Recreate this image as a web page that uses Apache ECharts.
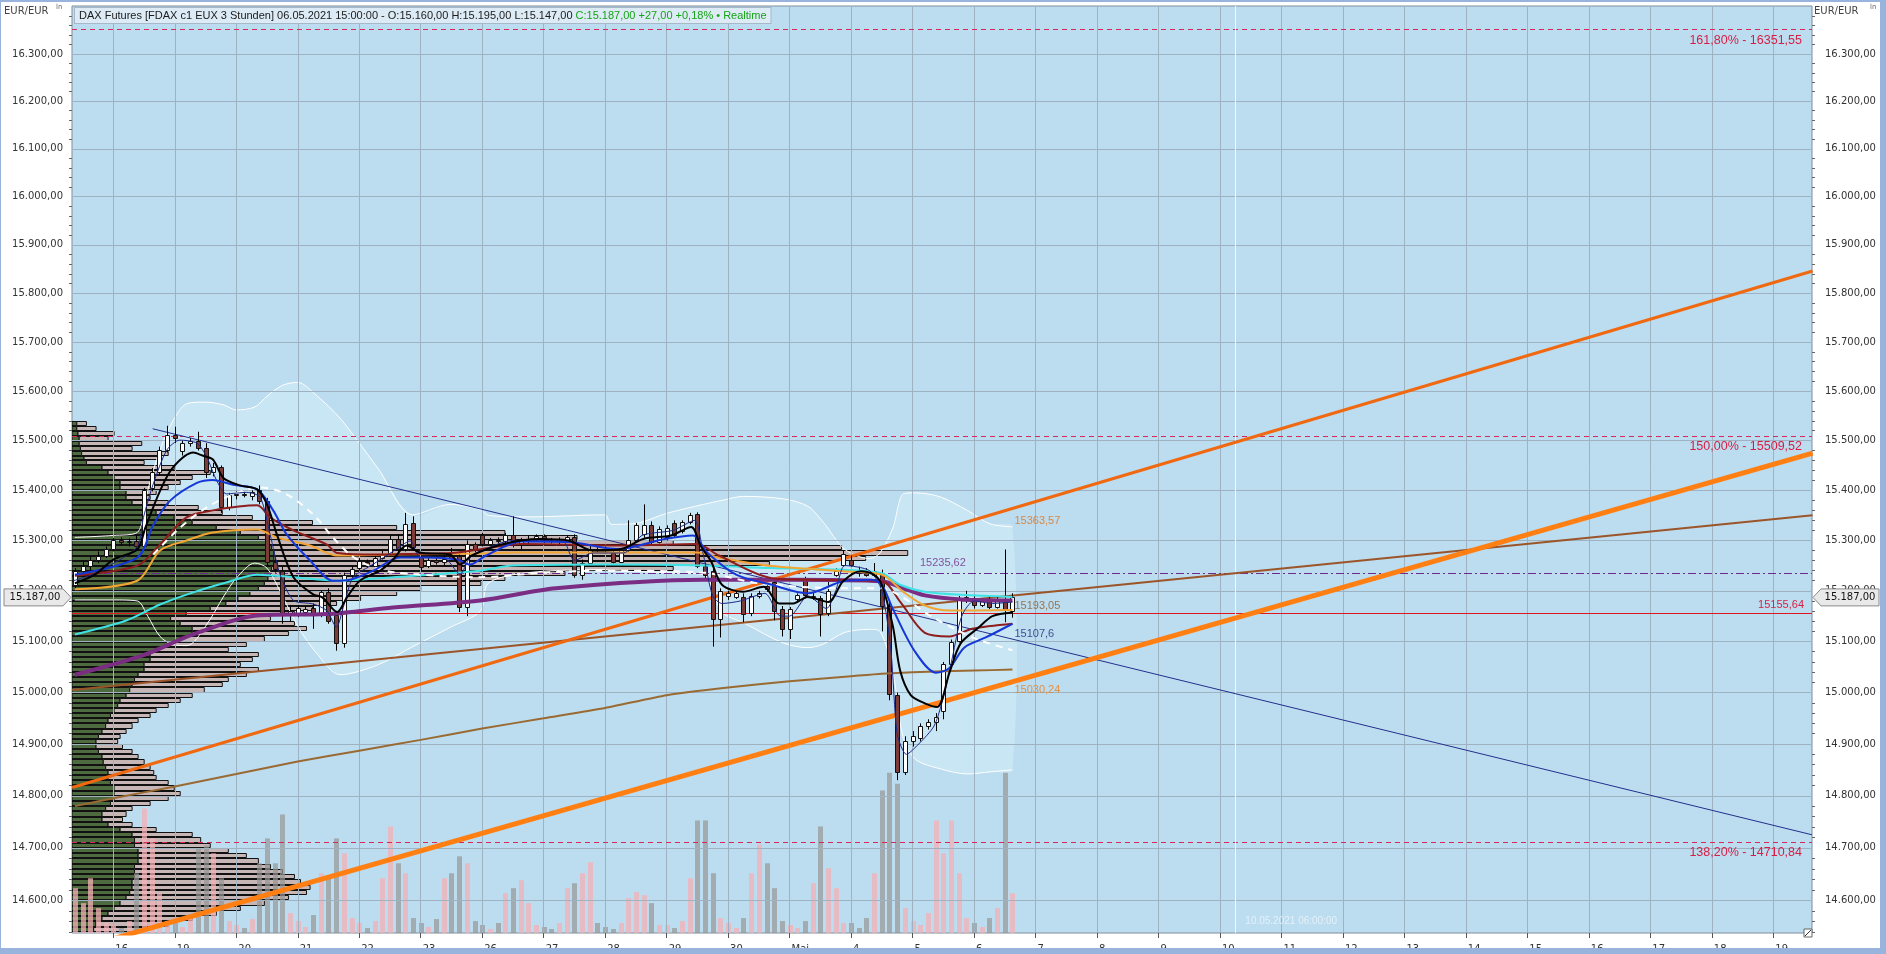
<!DOCTYPE html>
<html><head><meta charset="utf-8">
<script src="https://cdn.jsdelivr.net/npm/echarts@6/dist/echarts.min.js"></script>
<style>html,body{margin:0;padding:0;background:#fff}#c{width:1886px;height:954px}</style>
</head><body><div id="c"></div><script>
// ---------------- DATA ----------------
const axisDays = ['04-16','04-19','04-20','04-21','04-22','04-23','04-26','04-27','04-28','04-29','04-30','05-03','05-04','05-05','05-06','05-07','05-08','05-09','05-10','05-11','05-12','05-13','05-14','05-15','05-16','05-17','05-18','05-19'];
const dayLabels = ['16','19','20','21','22','23','26','27','28','29','30','Mai','4','5','6','7','8','9','10','11','12','13','14','15','16','17','18','19'];
const priceTicks = [14600,14700,14800,14900,15000,15100,15200,15300,15400,15500,15600,15700,15800,15900,16000,16100,16200,16300];
const header = {text:'DAX Futures [FDAX c1 EUX 3 Stunden] 06.05.2021 15:00:00 - O:15.160,00 H:15.195,00 L:15.147,00 ', green:'C:15.187,00 +27,00 +0,18% \u2022 Realtime'};
const lastPrice = 15187;
const cursorTime = '05-10 06';
const cursorLabel = '10.05.2021 06:00:00';

// candles: time, open, high, low, close
const candles = [
['04-15 09',15212,15245,15205,15240],['04-15 12',15240,15258,15232,15250],['04-15 15',15250,15268,15240,15262],['04-15 18',15262,15278,15255,15270],['04-15 21',15270,15288,15265,15282],
['04-16 00',15282,15305,15278,15300],['04-16 03',15300,15306,15290,15296],['04-16 06',15296,15304,15288,15299],['04-16 09',15299,15310,15282,15288],['04-16 12',15288,15405,15280,15400],['04-16 15',15405,15445,15398,15436],['04-16 18',15436,15488,15430,15482],['04-16 21',15482,15530,15476,15512],
['04-19 00',15512,15528,15495,15505],['04-19 03',15480,15500,15470,15495],['04-19 06',15495,15505,15488,15500],['04-19 09',15500,15518,15480,15486],['04-19 12',15486,15495,15425,15436],['04-19 15',15436,15455,15428,15447],['04-19 18',15447,15450,15355,15366],['04-19 21',15366,15395,15360,15390],
['04-20 00',15390,15398,15382,15393],['04-20 03',15393,15397,15386,15390],['04-20 06',15388,15400,15380,15396],['04-20 09',15400,15410,15372,15378],['04-20 12',15378,15385,15250,15257],['04-20 15',15257,15268,15236,15244],['04-20 18',15240,15248,15135,15154],['04-20 21',15154,15172,15140,15160],
['04-21 00',15156,15172,15148,15167],['04-21 03',15158,15170,15150,15165],['04-21 06',15167,15175,15125,15154],['04-21 09',15154,15200,15148,15197],['04-21 12',15197,15205,15135,15141],['04-21 15',15152,15160,15082,15098],['04-21 18',15098,15236,15088,15232],['04-21 21',15232,15248,15226,15244],
['04-22 00',15245,15265,15240,15260],['04-22 03',15258,15262,15245,15252],['04-22 06',15250,15270,15246,15265],['04-22 09',15265,15280,15262,15272],['04-22 12',15272,15310,15268,15302],['04-22 15',15302,15312,15276,15282],['04-22 18',15282,15355,15278,15333],['04-22 21',15335,15348,15280,15286],
['04-23 00',15268,15275,15240,15248],['04-23 03',15250,15266,15245,15262],['04-23 06',15262,15268,15252,15258],['04-23 09',15258,15270,15250,15264],['04-23 12',15270,15285,15262,15266],['04-23 15',15270,15278,15158,15168],['04-23 18',15168,15300,15150,15292],['04-23 21',15292,15296,15276,15282],
['04-26 00',15310,15315,15288,15293],['04-26 03',15293,15305,15290,15300],['04-26 06',15300,15306,15294,15298],['04-26 09',15298,15315,15295,15310],['04-26 12',15310,15348,15286,15290],['04-26 15',15290,15305,15282,15300],['04-26 18',15300,15310,15292,15302],['04-26 21',15302,15312,15298,15308],
['04-27 00',15308,15312,15295,15300],['04-27 03',15300,15305,15294,15298],['04-27 06',15298,15306,15292,15302],['04-27 09',15300,15310,15296,15306],['04-27 12',15306,15312,15226,15232],['04-27 15',15232,15262,15222,15256],['04-27 18',15256,15290,15250,15283],['04-27 21',15283,15290,15276,15282],
['04-28 00',15282,15288,15274,15280],['04-28 03',15276,15282,15254,15258],['04-28 06',15258,15285,15255,15280],['04-28 09',15280,15340,15275,15300],['04-28 12',15300,15335,15296,15330],['04-28 15',15312,15372,15305,15330],['04-28 18',15330,15338,15290,15297],['04-28 21',15297,15328,15294,15322],
['04-29 00',15306,15330,15300,15325],['04-29 03',15334,15340,15305,15310],['04-29 06',15318,15340,15314,15337],['04-29 09',15337,15355,15332,15350],['04-29 12',15352,15356,15245,15249],['04-29 15',15249,15256,15225,15232],['04-29 18',15240,15245,15090,15145],['04-29 21',15145,15205,15108,15200],
['04-30 00',15190,15200,15182,15196],['04-30 03',15188,15200,15184,15195],['04-30 06',15188,15195,15138,15154],['04-30 09',15157,15195,15150,15190],['04-30 12',15190,15200,15185,15195],['04-30 15',15210,15215,15198,15204],['04-30 18',15218,15225,15142,15160],['04-30 21',15164,15170,15110,15124],
['05-03 00',15124,15168,15105,15164],['05-03 03',15184,15195,15178,15191],['05-03 06',15222,15228,15185,15191],['05-03 09',15188,15196,15182,15190],['05-03 12',15185,15190,15110,15154],['05-03 15',15157,15222,15150,15200],['05-03 18',15232,15245,15228,15240],['05-03 21',15252,15280,15248,15273],
['05-04 00',15262,15270,15248,15252],['05-04 03',15240,15248,15228,15235],['05-04 06',15235,15245,15228,15232],['05-04 09',15232,15255,15228,15240],['05-04 12',15236,15242,15120,15171],['05-04 15',15171,15178,14985,14998],['05-04 18',14995,15000,14830,14845],['05-04 21',14845,14915,14840,14905],
['05-05 00',14905,14925,14895,14915],['05-05 03',14912,14940,14905,14935],['05-05 06',14935,14948,14928,14942],['05-05 09',14942,14960,14925,14952],['05-05 12',14965,15060,14948,15056],['05-05 15',15056,15104,15050,15099],['05-05 18',15102,15190,15098,15181],['05-05 21',15181,15200,15176,15188],
['05-06 00',15185,15192,15165,15172],['05-06 03',15172,15185,15168,15180],['05-06 06',15180,15188,15164,15168],['05-06 09',15168,15190,15165,15182],['05-06 12',15178,15282,15138,15163],['05-06 15',15160,15195,15147,15187]
];
const volume = [
45,30,55,25,10,
8,5,12,60,125,95,40,12,
10,6,15,85,88,80,55,12,
8,5,14,70,95,70,119,20,
12,6,18,60,55,95,80,15,
10,5,12,55,107,70,60,15,
10,6,14,55,60,77,70,12,
8,4,10,40,45,53,30,8,
6,4,10,45,50,60,71,10,
6,4,10,35,41,38,30,8,
8,5,12,55,113,113,60,15,
10,5,15,60,89,70,45,12,
8,5,12,50,107,65,45,10,
10,5,15,60,143,161,150,25,
12,8,20,113,80,113,60,15,
10,6,15,25,161,40
];

// volume profile: price level (10-pt bins), green part, total (relative units)
const profilePrice = [15530,15520,15510,15500,15490,15480,15470,15460,15450,15440,15430,15420,15410,15400,15390,15380,15370,15360,15350,15340,15330,15320,15310,15300,15290,15280,15270,15260,15250,15240,15230,15220,15210,15200,15190,15180,15170,15160,15150,15140,15130,15120,15110,15100,15090,15080,15070,15060,15050,15040,15030,15020,15010,15000,14990,14980,14970,14960,14950,14940,14930,14920,14910,14900,14890,14880,14870,14860,14850,14840,14830,14820,14810,14800,14790,14780,14770,14760,14750,14740,14730,14720,14710,14700,14690,14680,14670,14660,14650,14640,14630,14620,14610,14600,14590,14580,14570,14560,14550,14540];
const profileGreen = [4,4,5,6,6,7,8,10,12,25,30,35,40,40,45,45,50,60,70,85,100,120,140,155,162,166,168,168,168,166,165,163,160,155,148,138,128,115,95,82,90,100,100,90,80,70,65,65,60,60,55,52,50,48,45,40,38,35,32,30,28,25,22,20,20,22,25,26,28,30,30,32,35,35,35,32,28,25,25,30,40,50,52,52,55,55,55,52,52,52,50,50,48,45,40,35,30,25,20,18];
const profileTotal = [12,20,35,30,58,50,80,72,60,85,115,100,90,80,70,65,80,105,125,150,200,270,360,420,500,640,695,660,580,500,410,360,340,290,270,240,220,200,185,165,185,195,180,160,145,130,155,150,140,155,145,130,125,110,100,90,80,70,65,55,50,45,40,38,42,50,55,60,65,68,70,80,85,90,80,65,50,45,42,50,70,100,107,115,130,145,155,165,175,185,190,198,195,180,160,140,120,100,80,60];

// indicator lines: [position in trading days from 16 Apr, price]
const maFast = [[-0.65,15220],[-0.33,15233],[0.38,15286],[0.49,15346],[0.65,15413],[0.87,15481],[1.08,15501],[1.36,15495],[1.52,15467],[1.68,15420],[1.84,15393],[2.17,15396],[2.39,15386],[2.55,15312],[2.71,15233],[2.93,15181],[3.25,15174],[3.47,15161],[3.63,15128],[3.74,15167],[3.9,15226],[4.23,15253],[4.56,15279],[4.83,15299],[4.99,15266],[5.37,15266],[5.64,15233],[5.8,15266],[5.97,15279],[6.5,15300],[7.3,15300],[7.5,15260],[7.8,15275],[8.3,15275],[8.6,15310],[9.1,15320],[9.45,15340],[9.6,15270],[9.75,15190],[9.9,15175],[10.2,15180],[10.6,15195],[10.85,15150],[11.0,15150],[11.3,15190],[11.6,15165],[11.75,15200],[11.9,15250],[12.3,15240],[12.5,15200],[12.65,15080],[12.75,14920],[12.9,14880],[13.1,14900],[13.35,14935],[13.5,14990],[13.65,15070],[13.8,15150],[14.0,15180],[14.3,15175],[14.625,15178]];
const maBlack = [[-0.625,15215],[-0.3,15232],[0,15262],[0.39,15282],[0.52,15325],[0.76,15399],[0.97,15446],[1.3,15476],[1.45,15470],[1.62,15462],[1.79,15425],[2.06,15410],[2.34,15402],[2.5,15372],[2.66,15312],[2.93,15227],[3.25,15193],[3.4,15187],[3.64,15158],[3.8,15187],[4.01,15220],[4.34,15240],[4.55,15262],[4.77,15290],[4.99,15276],[5.48,15272],[5.64,15252],[5.83,15270],[6.35,15293],[6.93,15303],[7.4,15300],[7.8,15280],[8.26,15283],[8.62,15303],[9.07,15310],[9.4,15327],[9.55,15290],[9.72,15259],[9.9,15212],[10.24,15198],[10.58,15208],[10.83,15175],[11.06,15175],[11.29,15188],[11.63,15178],[11.87,15219],[12.16,15239],[12.37,15232],[12.5,15212],[12.68,15130],[12.8,15042],[12.97,14995],[13.2,14979],[13.4,14972],[13.6,15039],[13.78,15096],[14.07,15127],[14.3,15150],[14.625,15157]];
const maBlue = [[-0.625,15232],[0.39,15266],[0.65,15331],[0.92,15379],[1.36,15415],[1.62,15421],[1.95,15411],[2.34,15402],[2.6,15360],[2.82,15312],[3.2,15260],[3.57,15220],[3.85,15222],[4.23,15240],[4.66,15266],[5.1,15266],[5.59,15262],[5.8,15252],[6.06,15270],[6.64,15298],[7.4,15297],[8.2,15283],[8.97,15303],[9.43,15310],[9.66,15276],[10.13,15232],[10.71,15212],[11.29,15195],[11.87,15219],[12.33,15222],[12.5,15212],[12.68,15164],[13.03,15082],[13.38,15039],[13.6,15048],[13.84,15088],[14.19,15108],[14.625,15135]];
const maRed = [[-0.625,15230],[0.39,15250],[0.76,15292],[1.19,15346],[1.62,15360],[2.34,15370],[2.55,15346],[2.93,15320],[3.47,15292],[3.64,15275],[4.3,15272],[4.82,15273],[5.5,15275],[6.0,15283],[6.64,15293],[8.37,15290],[9.49,15293],[9.85,15270],[10.71,15225],[11.29,15222],[12.5,15219],[12.8,15178],[13.2,15117],[13.6,15110],[13.97,15125],[14.625,15135]];
const maGold = [[-0.625,15203],[0.39,15220],[0.76,15280],[1.19,15300],[1.62,15316],[2.34,15322],[2.66,15306],[3.2,15290],[3.64,15270],[4.5,15272],[5.97,15274],[6.5,15276],[9.5,15276],[9.85,15266],[10.71,15249],[11.87,15239],[12.5,15232],[12.85,15198],[13.2,15171],[13.6,15161],[14.625,15162]];
const maCyan = [[-0.625,15114],[0.22,15142],[0.76,15173],[1.3,15197],[1.85,15217],[2.34,15232],[2.93,15227],[3.64,15220],[4.55,15227],[5.97,15240],[6.5,15250],[8.0,15252],[9.6,15250],[10.7,15245],[11.8,15242],[12.5,15235],[12.8,15212],[13.2,15198],[13.8,15192],[14.625,15188]];
const maPurple = [[-0.625,15035],[0.48,15073],[1.3,15114],[2.39,15152],[3.47,15154],[4.55,15167],[5.97,15181],[7.2,15205],[9.6,15222],[11.0,15222],[12.5,15219],[12.85,15205],[13.2,15191],[13.8,15183],[14.625,15181]];
const maBrown = [[-0.625,14780],[0,14795],[1,14818],[2,14842],[3,14866],[4,14887],[5,14908],[6,14930],[7,14950],[8,14970],[9,14995],[10,15010],[11,15022],[12,15032],[12.5,15037],[13,15040],[14,15043],[14.625,15045]];
const maWhite = [[0.65,15272],[1.09,15326],[1.52,15366],[1.95,15392],[2.39,15406],[2.82,15392],[3.25,15352],[3.57,15306],[3.85,15272],[4.12,15252],[4.55,15237],[5.97,15227],[7.0,15236],[8.0,15240],[9.6,15236],[10.5,15215],[11.87,15205],[12.5,15205],[12.8,15190],[13.3,15150],[13.8,15118],[14.1,15102],[14.625,15083]];
const bandT     = [-0.625,0,0.39,0.56,0.76,0.97,1.2,1.5,1.8,2.0,2.3,2.5,2.75,3.0,3.3,3.69,4.3,4.87,5.48,5.97,6.1,6.75,8.0,8.1,8.5,9.0,9.6,9.9,10.25,10.9,11.3,11.55,11.9,12.3,12.47,12.68,12.85,13.05,13.45,13.89,14.26,14.625];
const bandUpper = [15306,15310,15316,15400,15482,15540,15575,15578,15572,15562,15568,15590,15612,15618,15592,15545,15445,15351,15372,15362,15350,15347,15351,15332,15334,15354,15372,15380,15388,15383,15368,15336,15282,15264,15275,15325,15393,15395,15387,15360,15333,15327];
const bandLower = [15182,15182,15180,15150,15110,15094,15092,15130,15190,15225,15255,15245,15190,15130,15078,15035,15054,15090,15128,15160,15215,15236,15242,15240,15238,15236,15232,15158,15137,15097,15088,15095,15118,15124,15120,15040,14910,14870,14852,14842,14846,14850];

// trend lines (two anchor points each)
const trendOrangeThin  = [[-0.67,14816],[27.64,15846]];
const trendOrangeThick = [[-0.67,14505],[27.64,15475]];
const trendBrown       = [[-0.67,15005],[27.64,15350]];
const trendNavy        = [[0.64,15524],[27.63,14725]];
const fibLevels = [{v:16351.55, t:'161,80% - 16351,55'},{v:15509.52, t:'150,00% - 15509,52'},{v:14710.84, t:'138,20% - 14710,84'}];
const redLevel = 15155.64, purpleLevel = 15235.62;
const endLabels = [
 {v:15363.57, t:'15363,57', c:'#e0731c', dy:12},
 {v:15193.05, t:'15193,05', c:'#8a5a2e', dy:12},
 {v:15107.6,  t:'15107,6',  c:'#1b2a7c', dy:-4},
 {v:15030.24, t:'15030,24', c:'#e8801e', dy:13}
];

// ---------------- HELPERS ----------------
const LN = Math.log;
const PMIN = 14538, PMAX = 16402;
function dayIndex(d){ return d === '04-15' ? -1 : axisDays.indexOf(d); }
function tOf(s){ const [d,h] = s.split(' '); return dayIndex(d) + parseInt(h,10)/24; }
function de(v){ return String(Math.round(v)).replace(/\B(?=(\d{3})+(?!\d))/g,'.') + ',00'; }
const majorVals = priceTicks.map(LN);
const minorVals = [];
for (let p = 14540; p <= 16400; p += 20) if (p % 100) minorVals.push(LN(p));
const dayVals = dayLabels.map((_,i)=>i);

function maLine(pts, color, width, extra){
  return Object.assign({type:'line', data: pts.map(([t,p])=>[t, LN(p)]), showSymbol:false, symbol:'none',
    smooth:0.3, lineStyle:{color:color, width:width}, z:7, silent:true, animation:false, clip:true}, extra||{});
}
function straight(pts, color, width, z){
  return {type:'line', data: pts.map(([t,p])=>[t, LN(p)]), showSymbol:false, symbol:'none', lineStyle:{color:color,width:width}, z:z||5, silent:true, animation:false, clip:true};
}

const candleData = candles.map(c=>[tOf(c[0]), LN(c[1]), LN(c[2]), LN(c[3]), LN(c[4])]);
const volData = candles.map((c,i)=>[tOf(c[0]), volume[i], c[4] >= c[1] ? 1 : 0]);
const profData = profilePrice.map((p,i)=>[LN(p), LN(p+10), profileGreen[i], profileTotal[i]]);

const series = [];
// grid lines
series.push({type:'line', data:[], z:1, silent:true, markLine:{silent:true, precision:10, symbol:'none', animation:false, label:{show:false},
  lineStyle:{color:'#9fb2c2', width:1, type:'solid'},
  data: dayVals.map(i=>({xAxis:i})).concat(majorVals.map(v=>({yAxis:v})))}});
// bollinger fill
series.push({type:'custom', z:2, silent:true, data:[[bandT[0], LN(bandLower[0])]], encode:{x:0,y:1}, clip:true,
  renderItem:(params, api)=>{
    const pts = [];
    for (let i=0;i<bandT.length;i++) pts.push(api.coord([bandT[i], LN(bandUpper[i])]));
    for (let i=bandT.length-1;i>=0;i--) pts.push(api.coord([bandT[i], LN(bandLower[i])]));
    return {type:'polygon', shape:{points:pts, smooth:0.3}, style:{fill:'rgba(214,240,250,0.5)'}};
  }});
// volume profile
series.push({type:'custom', xAxisIndex:1, yAxisIndex:0, z:3, silent:true, data:profData, encode:{x:[2,3], y:[0,1]}, clip:true,
  renderItem:(params, api)=>{
    const y0 = api.coord([0, api.value(0)])[1], y1 = api.coord([0, api.value(1)])[1];
    const x0 = api.coord([0, api.value(0)])[0];
    const xg = api.coord([api.value(2), api.value(0)])[0], xt = api.coord([api.value(3), api.value(0)])[0];
    const top = Math.round(y1)+0.5, h = Math.max(1, Math.round(y0)-Math.round(y1)-1);
    return {type:'group', children:[
      {type:'rect', shape:{x:x0, y:top, width:Math.max(0,xg-x0), height:h}, style:{fill:'#4d6b3f', stroke:'#111', lineWidth:1}},
      {type:'rect', shape:{x:xg, y:top, width:Math.max(0,xt-xg), height:h}, style:{fill:'#c7b6b6', stroke:'#111', lineWidth:1}}
    ]};
  }});
// volume bars
series.push({type:'custom', xAxisIndex:0, yAxisIndex:4, z:4, silent:true, data:volData, encode:{x:0,y:1}, clip:true,
  renderItem:(params, api)=>{
    const a = api.coord([api.value(0), api.value(1)]), b = api.coord([api.value(0), 0]);
    return {type:'rect', shape:{x:Math.round(a[0])-2, y:a[1], width:5, height:b[1]-a[1]},
      style:{fill: api.value(2) ? 'rgba(244,176,182,0.75)' : 'rgba(150,150,150,0.7)'}};
  }});
// horizontal levels
series.push({type:'line', data:[], z:5, silent:true, markLine:{silent:true, precision:10, symbol:'none', animation:false,
  data: fibLevels.map(f=>({yAxis:LN(f.v), lineStyle:{color:'#d8275a', width:1, type:[5,4]},
      label:{show:true, position:'insideEndBottom', formatter:f.t, color:'#d81e45', fontSize:12.5, fontFamily:'Liberation Sans', distance:[10,4]}}))
    .concat([{yAxis:LN(redLevel), lineStyle:{color:'#e0161e', width:1, type:'solid'},
      label:{show:true, position:'insideEndTop', formatter:'15155,64', color:'#d81e45', fontSize:11, fontFamily:'Liberation Sans', distance:[8,3]}},
     {yAxis:LN(purpleLevel), lineStyle:{color:'#6b2a8c', width:1, type:[8,3,2,3]}, label:{show:false}}])}});
// cursor line
series.push({type:'line', data:[], z:5, silent:true, markLine:{silent:true, precision:10, symbol:'none', animation:false, label:{show:false},
  data:[{xAxis:tOf(cursorTime), lineStyle:{color:'#f4f8fb', width:1, type:'solid'}}]}});
// trend lines
series.push(straight(trendBrown, '#9b5528', 2));
series.push(straight(trendNavy, '#23308c', 1));
series.push(straight(trendOrangeThin, '#f0680f', 3));
series.push(straight(trendOrangeThick, '#ff7f12', 5));
// moving averages
series.push(maLine(maBrown, '#9a6a33', 2, {smooth:0.2}));
series.push(maLine(maPurple, '#7b2d83', 4));
series.push(maLine(maCyan, '#3fe3e6', 2));
series.push(maLine(maGold, '#f2a533', 2));
series.push(maLine(maRed, '#8e1d1d', 2));
series.push(maLine(maWhite, '#ffffff', 2, {lineStyle:{color:'#ffffff', width:2, type:[7,6]}}));
series.push(maLine(bandUpper.map((p,i)=>[bandT[i],p]), '#ffffff', 1, {z:4}));
series.push(maLine(bandLower.map((p,i)=>[bandT[i],p]), '#ffffff', 1, {z:4}));
// candles
series.push({type:'custom', z:6, silent:true, data:candleData, encode:{x:0, y:[1,2,3,4]}, clip:true,
  renderItem:(params, api)=>{
    const t = api.value(0);
    const o = api.coord([t, api.value(1)]), h = api.coord([t, api.value(2)]), l = api.coord([t, api.value(3)]), c = api.coord([t, api.value(4)]);
    const x = Math.round(o[0]) + 0.5;
    const up = api.value(4) >= api.value(1);
    const top = Math.round(Math.min(o[1], c[1])) + 0.5, bot = Math.round(Math.max(o[1], c[1])) + 0.5;
    return {type:'group', children:[
      {type:'line', shape:{x1:x, y1:h[1], x2:x, y2:l[1]}, style:{stroke:'#000', lineWidth:1}},
      {type:'rect', shape:{x:x-2, y:top, width:4, height:Math.max(1, bot-top)}, style:{fill: up ? '#ffffff' : '#7d3c37', stroke:'#111', lineWidth:1}}
    ]};
  }});
series.push(maLine(maFast, '#1d2b86', 1, {smooth:0.25}));
series.push(maLine(maBlue, '#1537d8', 2));
series.push(maLine(maBlack, '#000000', 2));
// text annotations at data positions
const lastT = tOf(candles[candles.length-1][0]);
series.push({type:'scatter', symbolSize:0, z:8, silent:true, animation:false,
  data: endLabels.map(e=>({value:[lastT, LN(e.v)], label:{show:true, position:'right', distance:2, offset:[0,e.dy], formatter:e.t, color:e.c, fontSize:11, fontFamily:'Liberation Sans'}}))
   .concat([{value:[13.12, LN(purpleLevel)], label:{show:true, position:'right', distance:0, offset:[0,-10], formatter:'15235,62', color:'#6e2a8a', fontSize:11, fontFamily:'Liberation Sans'}},
            {value:[tOf(cursorTime), LN(14560)], label:{show:true, position:'right', distance:10, offset:[0,0], formatter:cursorLabel, color:'#eef6fb', fontSize:10, fontFamily:'Liberation Sans'}}])});

const axisFont = {fontFamily:'DejaVu Sans', fontSize:10, color:'#333'};
const fmtY = v => de(Math.round(Math.exp(v)/10)*10);
const option = {
  animation:false,
  backgroundColor:'#ffffff',
  grid:{left:72, right:74, top:6, bottom:17, show:true, backgroundColor:'#bcdcef', borderColor:'#7e8e9c', borderWidth:1},
  xAxis:[
    {type:'value', min:-0.672, max:27.63, axisLine:{show:false}, splitLine:{show:false},
     axisTick:{customValues:dayVals, length:5, lineStyle:{color:'#555'}},
     axisLabel:Object.assign({customValues:dayVals, formatter:v=>dayLabels[Math.round(v)], align:'left', margin:11, padding:[0,0,0,2]}, axisFont)},
    {type:'value', min:0, max:1447, show:false}
  ],
  yAxis:[
    {type:'value', position:'left', min:LN(PMIN), max:LN(PMAX), axisLine:{show:false}, splitLine:{show:false},
     axisTick:{customValues:majorVals, length:5, lineStyle:{color:'#555'}},
     axisLabel:Object.assign({customValues:majorVals, formatter:fmtY, margin:9}, axisFont)},
    {type:'value', position:'right', min:LN(PMIN), max:LN(PMAX), axisLine:{show:false}, splitLine:{show:false},
     axisTick:{customValues:majorVals, length:5, lineStyle:{color:'#555'}},
     axisLabel:Object.assign({customValues:majorVals, formatter:fmtY, margin:13}, axisFont)},
    {type:'value', position:'left', min:LN(PMIN), max:LN(PMAX), axisLine:{show:false}, splitLine:{show:false},
     axisTick:{customValues:minorVals, length:3, lineStyle:{color:'#666'}}, axisLabel:{show:false}},
    {type:'value', position:'right', min:LN(PMIN), max:LN(PMAX), axisLine:{show:false}, splitLine:{show:false},
     axisTick:{customValues:minorVals, length:3, lineStyle:{color:'#666'}}, axisLabel:{show:false}},
    {type:'value', min:0, max:931, show:false}
  ],
  series: series
};
const chart = echarts.init(document.getElementById('c'), null, {width:1886, height:954});
chart.setOption(option);

// overlays depending on axis pixels
const yTag = chart.convertToPixel({yAxisIndex:0}, LN(lastPrice));
const tagStyle = {fill:'#e9e9e9', stroke:'#8a8a8a', lineWidth:1};
chart.setOption({graphic:[
  {type:'text', left:74, top:7, z:50, style:{text:'{a|'+header.text+'}{b|'+header.green+'}',
    rich:{a:{fill:'#1b1b1b', fontSize:11, fontFamily:'Liberation Sans'}, b:{fill:'#17a317', fontSize:11, fontFamily:'Liberation Sans'}},
    backgroundColor:'#dcebf5', borderColor:'#a7b8c8', borderWidth:1, padding:[2,4,2,4]}},
  {type:'text', left:4, top:6, z:50, style:{text:'EUR/EUR', fill:'#444', fontSize:10, fontFamily:'DejaVu Sans'}},
  {type:'text', left:56, top:4, z:50, style:{text:'ln', fill:'#666', fontSize:7, fontFamily:'DejaVu Sans'}},
  {type:'text', left:1814, top:6, z:50, style:{text:'EUR/EUR', fill:'#444', fontSize:10, fontFamily:'DejaVu Sans'}},
  {type:'text', left:1870, top:4, z:50, style:{text:'ln', fill:'#666', fontSize:7, fontFamily:'DejaVu Sans'}},
  {type:'polygon', z:60, shape:{points:[[4,yTag-8.5],[63,yTag-8.5],[71,yTag],[63,yTag+8.5],[4,yTag+8.5]]}, style:tagStyle},
  {type:'text', z:61, x:35, y:yTag, style:{text:de(lastPrice), fill:'#111', fontSize:10, fontFamily:'DejaVu Sans', align:'center', verticalAlign:'middle'}},
  {type:'polygon', z:60, shape:{points:[[1813,yTag],[1821,yTag-8.5],[1879,yTag-8.5],[1879,yTag+8.5],[1821,yTag+8.5]]}, style:tagStyle},
  {type:'text', z:61, x:1850, y:yTag, style:{text:de(lastPrice), fill:'#111', fontSize:10, fontFamily:'DejaVu Sans', align:'center', verticalAlign:'middle'}},
  {type:'rect', z:60, shape:{x:1804, y:929, width:8, height:8}, style:{fill:'#fff', stroke:'#666', lineWidth:1}},
  {type:'line', z:61, shape:{x1:1805, y1:936, x2:1811, y2:930}, style:{stroke:'#333', lineWidth:1}},
  {type:'rect', z:100, shape:{x:0, y:948, width:1886, height:6}, style:{fill:'#98b3dc'}},
  {type:'rect', z:100, shape:{x:0, y:0, width:1886, height:2}, style:{fill:'#98b3dc'}},
  {type:'rect', z:100, shape:{x:1880, y:0, width:6, height:954}, style:{fill:'#98b3dc'}},
  {type:'rect', z:100, shape:{x:0, y:0, width:1, height:954}, style:{fill:'#98b3dc'}}
]});
</script></body></html>
